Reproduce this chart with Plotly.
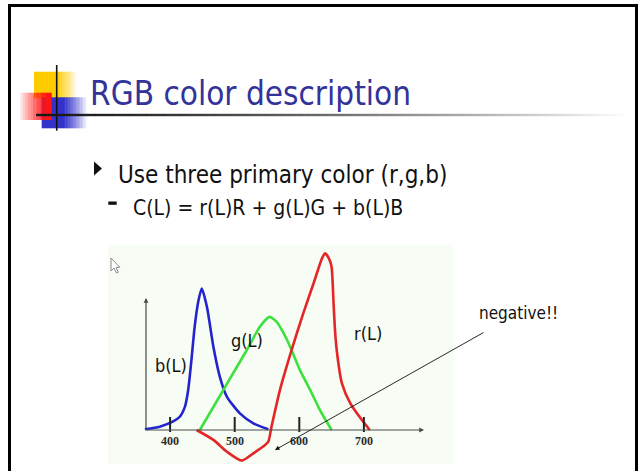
import plotly.graph_objects as go

W, H = 639, 471

# Colour-matching curves: wavelength (nm) and relative value (red peak = 100)
blue_nm = [361, 384, 404, 415, 423, 428, 433, 438, 444, 449, 457, 467, 477, 488, 508, 529, 552]
blue_val = [0.4, 1.9, 4.7, 7.5, 13.2, 22.6, 39.5, 58.4, 73.4, 80.1, 69.7, 47.1, 30.1, 18.8, 9.4, 3.8, 0.4]

green_nm = [446, 467, 498, 519, 539, 554, 565, 580, 588, 601, 617, 632, 650]
green_val = [0, 13.0, 32.4, 45.4, 58.4, 64.0, 61.2, 51.8, 45.2, 33.9, 22.6, 11.3, 0]

red_nm = [441, 467, 488, 511, 529, 544, 552, 557, 570, 588, 606, 622, 635, 640, 646,
          650, 653, 655, 658, 666, 679, 697, 709]
red_val = [0, -5.6, -12.3, -17.3, -13.2, -9.4, -6.6, 1.9, 22.6, 45.2, 65.9, 82.9, 97.0, 100,
           97, 92.3, 72, 58, 45, 26.4, 15.1, 5.6, 0]

tick_nm = [400, 500, 600, 700]
tick_labels = ["400", "500", "600", "700"]

curve_names = ["b(L)", "g(L)", "r(L)"]
curve_colors = ["#2424cf", "#3ee03e", "#e32626"]

SANS = "DejaVu Sans Condensed, Liberation Sans, sans-serif"


def px(x):
    return x / W


def py(y):
    return 1 - y / H


# pixel box of the spectrum picture and its scale
BOX_L, BOX_R, BOX_T, BOX_B = 108, 453, 245, 464
NM_SCALE, NM_OFF = 0.646, 88.3      # pixel = NM_SCALE * nm - NM_OFF
VAL_SCALE, ZERO_Y = 1.767, 430      # pixel = ZERO_Y - VAL_SCALE * value


def nm_at(xpix):
    return (xpix + NM_OFF) / NM_SCALE


def val_at(ypix):
    return (ZERO_Y - ypix) / VAL_SCALE


fig = go.Figure()

for xs, ys, name, col in zip([blue_nm, green_nm, red_nm], [blue_val, green_val, red_val],
                             curve_names, curve_colors):
    fig.add_trace(go.Scatter(x=xs, y=ys, mode="lines", name=name,
                             line=dict(color=col, width=2.6, shape="spline", smoothing=0.6),
                             cliponaxis=False, hoverinfo="skip"))

# tick marks crossing the wavelength axis
tx, ty = [], []
for t in tick_nm:
    tx += [t, t, None]
    ty += [val_at(417), val_at(432), None]
fig.add_trace(go.Scatter(x=tx, y=ty, mode="lines", line=dict(color="#222222", width=2),
                         cliponaxis=False, hoverinfo="skip", showlegend=False))

ann = []
for t, lab in zip(tick_nm, tick_labels):
    ann.append(dict(x=t, y=val_at(441), xref="x", yref="y", text=lab, showarrow=False,
                    xanchor="center", yanchor="middle",
                    font=dict(family="Liberation Serif", size=12, color="#2a2a2a", weight="bold")))

# axes drawn as arrows
ann.append(dict(x=nm_at(424), y=0, ax=nm_at(145), ay=0, xref="x", yref="y", axref="x", ayref="y",
                text="", showarrow=True, arrowhead=2, arrowsize=0.8, arrowwidth=1.2,
                arrowcolor="#4a4a4a", standoff=0, startstandoff=0))
ann.append(dict(x=nm_at(146), y=val_at(298), ax=nm_at(146), ay=0, xref="x", yref="y", axref="x",
                ayref="y", text="", showarrow=True, arrowhead=2, arrowsize=0.8, arrowwidth=1.2,
                arrowcolor="#4a4a4a", standoff=0, startstandoff=0))

# curve labels
for name, (lx, ly) in zip(curve_names, [(171, 365), (246.7, 340), (368.3, 333.3)]):
    ann.append(dict(x=nm_at(lx), y=val_at(ly), xref="x", yref="y", text=name, showarrow=False,
                    xanchor="center", yanchor="middle",
                    font=dict(family=SANS, size=18, color="#111111")))

# "negative!!" callout
ann.append(dict(x=nm_at(275), y=val_at(450), ax=nm_at(485), ay=val_at(331.7), xref="x", yref="y",
                axref="x", ayref="y", text="", showarrow=True, arrowhead=2, arrowsize=1,
                arrowwidth=0.9, arrowcolor="#111111", standoff=0, startstandoff=0))
ann.append(dict(x=px(518.5), y=py(313), xref="paper", yref="paper", text="negative!!",
                xanchor="center", yanchor="middle", showarrow=False,
                font=dict(family=SANS, size=17, color="#111111")))

# slide title and body text
ann.append(dict(x=px(88), y=py(93.4), xref="paper", yref="paper", xanchor="left", yanchor="middle",
                text="RGB color description", showarrow=False,
                font=dict(family=SANS, size=33, color="#333399")))
ann.append(dict(x=px(116), y=py(174.5), xref="paper", yref="paper", xanchor="left",
                yanchor="middle", text="Use three primary color (r,g,b)", showarrow=False,
                font=dict(family=SANS, size=24, color="#111111")))
ann.append(dict(x=px(130.5), y=py(208.3), xref="paper", yref="paper", xanchor="left",
                yanchor="middle", text="C(L) = r(L)R + g(L)G + b(L)B", showarrow=False,
                font=dict(family=SANS, size=21, color="#111111")))

shapes = []


def prect(x0, y0, x1, y1, color, opacity=1.0):
    shapes.append(dict(type="rect", xref="paper", yref="paper", x0=px(x0), x1=px(x1),
                       y0=py(y1), y1=py(y0), fillcolor=color, opacity=opacity,
                       line=dict(width=0), layer="above"))


def fade(x0, x1, y0, y1, rgb, a0, a1, n=16):
    step = (x1 - x0) / n
    for i in range(n):
        a = a0 + (a1 - a0) * (i + 0.5) / n
        prect(x0 + i * step, y0, x0 + (i + 1) * step + 0.3, y1,
              "rgb(%d,%d,%d)" % rgb, max(0.0, min(1.0, a)))


# template logo squares
prect(34, 71.7, 56.7, 98.3, "rgb(255,204,0)")
fade(56.7, 77, 71.7, 98.3, (255, 204, 0), 1.0, 0.0)
prect(41.7, 97.3, 64, 128.3, "rgb(51,51,204)")
fade(64, 87, 97.3, 128.3, (51, 51, 204), 1.0, 0.0)
fade(20, 46, 92.7, 120, (255, 20, 20), 0.05, 1.0)
prect(46, 92.7, 51.7, 120, "rgb(255,20,20)")

# black cross lines of the logo and fading title rule
shapes.append(dict(type="line", xref="paper", yref="paper", x0=px(56.7), x1=px(56.7),
                   y0=py(65), y1=py(130.7), line=dict(color="#111111", width=1.6), layer="above"))
n = 70
x_start, x_end = 36, 632
for i in range(n):
    t = i / (n - 1)
    g = int(25 + 230 * t ** 1.4)
    xa = x_start + (x_end - x_start) * i / n
    xb = x_start + (x_end - x_start) * (i + 1) / n + 0.5
    shapes.append(dict(type="line", xref="paper", yref="paper", x0=px(xa), x1=px(xb),
                       y0=py(115), y1=py(115), line=dict(color="rgb(%d,%d,%d)" % (g, g, g), width=2.4),
                       layer="above"))

# bullets
shapes.append(dict(type="path", xref="paper", yref="paper",
                   path="M %f %f L %f %f L %f %f Z" % (px(94), py(161.5), px(102), py(168.5),
                                                       px(94), py(175.5)),
                   fillcolor="#111111", line=dict(width=0), layer="above"))
prect(108.3, 201.5, 116.7, 204.8, "#111111")

# mouse pointer left on the spectrum picture
pts = [(111, 258), (111, 271), (114, 268), (116.5, 273), (118.3, 272.2), (116, 267.3), (119.8, 267.3)]
path = "M " + " L ".join("%f %f" % (px(a), py(b)) for a, b in pts) + " Z"
shapes.append(dict(type="path", xref="paper", yref="paper", path=path, fillcolor="white",
                   line=dict(color="#8a8a8a", width=1), layer="above"))

# slide frame
shapes.append(dict(type="rect", xref="paper", yref="paper", x0=px(9.5), x1=px(636.5),
                   y0=py(480), y1=py(5.5), line=dict(color="#000000", width=3),
                   fillcolor="rgba(0,0,0,0)", layer="above"))

fig.update_layout(
    width=W, height=H, margin=dict(l=0, r=0, t=0, b=0, pad=0),
    paper_bgcolor="white", plot_bgcolor="#f7fcf4", showlegend=False,
    xaxis=dict(domain=[px(BOX_L), px(BOX_R)], range=[nm_at(BOX_L), nm_at(BOX_R)],
               visible=False, fixedrange=True),
    yaxis=dict(domain=[py(BOX_B), py(BOX_T)], range=[val_at(BOX_B), val_at(BOX_T)],
               visible=False, fixedrange=True),
    annotations=ann, shapes=shapes,
)

fig.write_html("out.html")
